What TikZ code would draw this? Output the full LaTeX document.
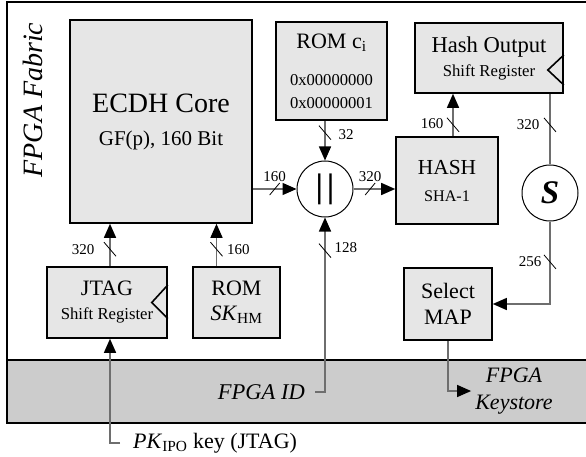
\documentclass[tikz,border=0pt]{standalone}
\usepackage{fontspec}
\setmainfont{Liberation Serif}
\usetikzlibrary{positioning, arrows.meta}
\definecolor{boxgray}{HTML}{E6E6E6}
\definecolor{bandgray}{HTML}{CCCCCC}
\definecolor{wiregray}{HTML}{6E6E6E}
\newcommand{\fsize}[2]{\fontsize{#1}{#2}\selectfont}

\begin{document}
\begin{tikzpicture}[x=1pt, y=-1pt,
  block/.style={draw, fill=boxgray, line width=1.6pt, inner sep=0pt, align=center},
  op/.style={circle, draw, line width=1pt, minimum size=56pt, inner sep=0pt},
  wire/.style={draw=wiregray, line width=1.4pt, -{Triangle[length=14pt, width=12pt, color=black]}},
  bits/.style={font=\fsize{15}{16}, inner sep=1pt},
  vbus/.pic={\draw[-, black, line width=0.8pt] (-6,-7) -- (6,7);},
  hbus/.pic={\draw[-, black, line width=0.8pt] (-5,6) -- (5,-6);}]
  \useasboundingbox (0,0) rectangle (586,457);
  % fabric and hard blocks
  \draw[line width=1.8pt] (7,2) rectangle (595,423);
  \draw[line width=1.8pt, fill=bandgray] (7,360) rectangle (595,423);

  % nodes
  \node[block, minimum width=182pt, minimum height=203pt, font=\fsize{21}{33}] (ecdh) at (161,121.5) {{\fsize{28}{33}ECDH Core}\\GF(p), 160 Bit};
  \node[block, minimum width=111pt, minimum height=98pt, font=\fsize{16.6}{23}] (romc) at (331.5,71) {{\fsize{22}{23}ROM c\textsubscript{i}}\\[14pt]0x00000000\\0x00000001};
  \node[block, minimum width=148pt, minimum height=70pt, font=\fsize{16.7}{24}] (hashout) at (489,58) {{\fsize{22.6}{24}Hash Output}\\Shift Register};
  \node[block, minimum width=102pt, minimum height=87pt, font=\fsize{16.2}{27}] (hash) at (447,180.5) {{\fsize{21.4}{27}HASH}\\SHA-1};
  \node[op] (cat) at (325,189) {\fsize{34}{34}\bfseries|\kern4pt|};
  \node[op] (sel) at (550,193) {\fsize{33}{33}\bfseries\itshape S};
  \node[block, minimum width=120pt, minimum height=71pt, font=\fsize{16.7}{24}] (jtag) at (107,302.5) {{\fsize{22}{24}JTAG}\\Shift Register};
  \node[block, minimum width=87pt, minimum height=71pt, font=\fsize{22}{25}] (romsk) at (236.5,302.5) {ROM\\\textit{SK}\textsubscript{HM}};
  \node[block, minimum width=88pt, minimum height=72pt, font=\fsize{22}{26}] (select) at (448,304) {Select\\MAP};

  \node[rotate=90, font=\fsize{28}{30}\itshape] (fabric) at (33,100) {FPGA Fabric};
  \node[anchor=east, inner sep=0pt, font=\fsize{22.5}{26}\itshape] (fpgaid) at (305,392) {FPGA ID};
  \node[inner sep=4pt, align=center, font=\fsize{22}{27}\itshape] (keystore) at (514,391) {FPGA\\Keystore};
  \node[anchor=west, inner sep=0pt, font=\fsize{22}{26}] (pk) at (133,443) {\textit{PK}\textsubscript{IPO} key (JTAG)};

  % shift register notches
  \draw[line width=1.6pt] ([yshift=17.5pt]jtag.east) -- ([xshift=-16pt]jtag.east) -- ([yshift=-16pt]jtag.east);
  \draw[line width=1.6pt] ([yshift=3pt]hashout.east) -- ([xshift=-16pt, yshift=-12pt]hashout.east) -- ([yshift=-27pt]hashout.east);

  % edges
  \draw[wire] (ecdh.east |- cat.west) -- pic[pos=.5]{hbus} node[bits, above=6pt, pos=.5] (w1) {160} (cat.west);
  \draw[wire] (cat.east) -- pic[pos=.4]{hbus} node[bits, above=6pt, pos=.4] (w2) {320} (cat.east -| hash.west);
  \draw[wire] (romc.south -| cat.north) -- pic[pos=.3]{vbus} node[bits, right=12pt, pos=.35] (w3) {32} (cat.north);
  \draw[wire] ([xshift=10pt]fpgaid.east) -- (cat |- fpgaid.east) -- pic[pos=.81]{vbus} node[bits, right=8pt, pos=.83] (w4) {128} (cat.south);

  \draw[wire] ([xshift=3pt]jtag.north) -- pic[pos=.4]{vbus} node[bits, left=14pt, pos=.4] (w5) {320} ([xshift=3pt]jtag.north |- ecdh.south);
  \draw[wire] ([xshift=-20pt]romsk.north) -- pic[pos=.4]{vbus} node[bits, right=9pt, pos=.4] (w6) {160} ([xshift=-20pt]romsk.north |- ecdh.south);
  \draw[wire] ([xshift=3pt]pk.west) ++(-16pt,0) -- ([xshift=3pt]jtag.south |- pk.west) -- ([xshift=3pt]jtag.south);

  \draw[wire] ([xshift=6pt]hash.north) -- pic[pos=.27]{vbus} node[bits, left=8pt, pos=.3] (w7) {160} ([xshift=6pt]hash.north |- hashout.south);
  \draw[wire, -] (hashout.south -| sel.north) -- pic[pos=.44]{vbus} node[bits, left=9pt, pos=.44] (w8) {320} (sel.north);
  \draw[wire] (sel.south) -- pic[pos=.49]{vbus} node[bits, left=7pt, pos=.49] (w9) {256} (sel.south |- select.east) -- (select.east);
  \draw[wire] (select.south) |- (keystore.west);
\end{tikzpicture}
\end{document}
